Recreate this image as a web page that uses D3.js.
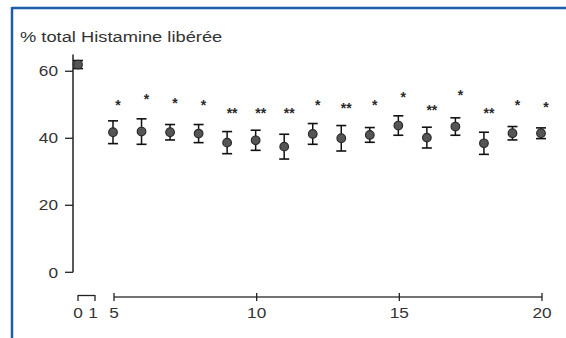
<!DOCTYPE html>
<html>
<head>
<meta charset="utf-8">
<script src="https://cdn.jsdelivr.net/npm/d3@7"></script>
<style>
  html, body { margin: 0; padding: 0; background: #fff; }
  svg { display: block; }
  text { font-family: "Liberation Sans", Arial, Helvetica, sans-serif; fill: #333; }
</style>
</head>
<body>
<svg id="chart" width="566" height="338"></svg>
<script>
// Baseline measurement (day 0)
const baselineDay = [0];
const baselineMean = [62.0];
const baselineSem = [1.2];

// Daily measurements, days 5 to 20
const days = [5, 6, 7, 8, 9, 10, 11, 12, 13, 14, 15, 16, 17, 18, 19, 20];
const means = [41.8, 42.0, 41.8, 41.4, 38.7, 39.4, 37.5, 41.3, 40.0, 41.0, 43.8, 40.2, 43.5, 38.5, 41.5, 41.5];
const sems = [3.4, 3.8, 2.3, 2.7, 3.3, 3.0, 3.7, 3.1, 3.8, 2.2, 2.9, 3.1, 2.6, 3.3, 2.0, 1.6];

// Significance marks and the level they are written at
const signif = ["*", "*", "*", "*", "**", "**", "**", "*", "**", "*", "*", "**", "*", "**", "*", "*"];
const signifLevel = [50.9, 52.6, 51.4, 50.9, 48.4, 48.4, 48.4, 50.9, 49.9, 50.9, 53.1, 49.4, 53.7, 48.4, 50.9, 50.1];

// Axis ticks
const yTicks = [0, 20, 40, 60];
const xTicksStart = [0, 1];
const xTicksMain = [5, 10, 15, 20];

const yTitle = "% total Histamine libérée";

const svg = d3.select("#chart");
const sx = 1.15; // horizontal stretch of the lettering

// Frame (top and left rules)
svg.append("line").attr("x1", 12).attr("x2", 566).attr("y1", 8).attr("y2", 8)
  .attr("stroke", "#1f5ca6").attr("stroke-width", 2.5);
svg.append("line").attr("x1", 12).attr("x2", 12).attr("y1", 7).attr("y2", 338)
  .attr("stroke", "#1f5ca6").attr("stroke-width", 2.5);

// Scales
const y = d3.scaleLinear().domain([0, 65]).range([272.3, 54.5]);
const xStart = d3.scaleLinear().domain([0, 1]).range([78, 95]);
const xMain = d3.scaleLinear().domain([5, 20]).range([114, 542]);
const axisColor = "#222";

function label(g, x, yPos, txt, anchor, stretch) {
  return g.append("text")
    .attr("transform", `translate(${x},${yPos}) scale(${stretch || sx},1)`)
    .attr("text-anchor", anchor)
    .attr("font-size", 15)
    .text(txt);
}

// Y axis
const yAxis = svg.append("g");
yAxis.append("line").attr("x1", 73).attr("x2", 73)
  .attr("y1", y.range()[1]).attr("y2", y(0))
  .attr("stroke", axisColor).attr("stroke-width", 1.5);
yTicks.forEach(t => {
  yAxis.append("line").attr("x1", 65).attr("x2", 73)
    .attr("y1", y(t)).attr("y2", y(t))
    .attr("stroke", axisColor).attr("stroke-width", 1.3);
  label(yAxis, 58, y(t) + 5.2, String(t), "end");
});

// Y title
label(svg, 20, 41.5, yTitle, "start", 1.22);

// Broken X axis
const axisY = 297;
const xa = svg.append("g");
xa.append("line").attr("x1", xStart(0)).attr("x2", xStart(1))
  .attr("y1", axisY - 1.5).attr("y2", axisY - 1.5)
  .attr("stroke", axisColor).attr("stroke-width", 1.3);
xTicksStart.forEach(t => {
  xa.append("line").attr("x1", xStart(t)).attr("x2", xStart(t))
    .attr("y1", axisY - 2).attr("y2", axisY + 4)
    .attr("stroke", axisColor).attr("stroke-width", 1.3);
  label(xa, xStart(t) - (t === 1 ? 2 : 0), axisY + 20.5, String(t), "middle");
});
xa.append("line").attr("x1", xMain(5)).attr("x2", xMain(20))
  .attr("y1", axisY).attr("y2", axisY)
  .attr("stroke", "#444").attr("stroke-width", 1.3);
xTicksMain.forEach(t => {
  xa.append("line").attr("x1", xMain(t)).attr("x2", xMain(t))
    .attr("y1", axisY - 4).attr("y2", axisY + 4)
    .attr("stroke", axisColor).attr("stroke-width", 1.3);
  label(xa, xMain(t), axisY + 20.5, String(t), "middle");
});

// Error bars + points
function drawPoint(g, cx, m, s) {
  const capW = 5;
  g.append("line").attr("x1", cx).attr("x2", cx)
    .attr("y1", y(m + s)).attr("y2", y(m - s))
    .attr("stroke", "#111").attr("stroke-width", 1.5);
  [m + s, m - s].forEach(v => {
    g.append("line").attr("x1", cx - capW).attr("x2", cx + capW)
      .attr("y1", y(v)).attr("y2", y(v))
      .attr("stroke", "#111").attr("stroke-width", 1.6);
  });
  g.append("circle").attr("cx", cx).attr("cy", y(m)).attr("r", 4.3)
    .attr("fill", "#555").attr("stroke", "#2a2a2a").attr("stroke-width", 1.2);
}

const pts = svg.append("g");
baselineDay.forEach((d, i) => drawPoint(pts, xStart(d), baselineMean[i], baselineSem[i]));
days.forEach((d, i) => drawPoint(pts, xMain(d) - 1, means[i], sems[i]));

// Significance asterisks
const stars = svg.append("g");
days.forEach((d, i) => {
  stars.append("text")
    .attr("x", xMain(d) + 4)
    .attr("y", y(signifLevel[i]) + 8)
    .attr("text-anchor", "middle")
    .attr("font-size", 14)
    .attr("font-weight", "bold")
    .style("fill", "#2a2a2a")
    .text(signif[i]);
});
</script>
</body>
</html>
